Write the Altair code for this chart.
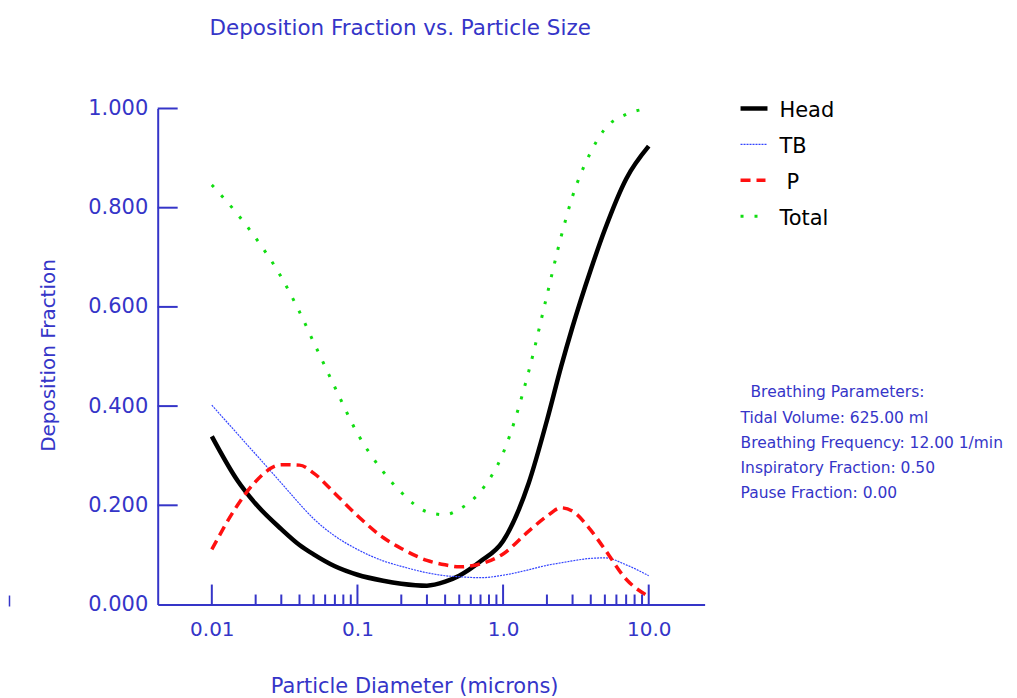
import altair as alt
import pandas as pd

# ---------------- data ----------------
diameters = [0.01, 0.015, 0.02, 0.03, 0.04, 0.05, 0.07, 0.1, 0.15, 0.2, 0.3, 0.4,
             0.5, 0.7, 1.0, 1.5, 2.0, 2.5, 3.0, 4.0, 5.0, 7.0, 10.0]
head = [0.339, 0.250, 0.203, 0.152, 0.120, 0.101, 0.077, 0.060, 0.048, 0.042, 0.038, 0.046,
        0.058, 0.087, 0.128, 0.245, 0.371, 0.479, 0.560, 0.675, 0.756, 0.858, 0.924]
tb = [0.402, 0.344, 0.303, 0.245, 0.203, 0.173, 0.138, 0.111, 0.088, 0.077, 0.064, 0.058,
      0.056, 0.054, 0.059, 0.070, 0.079, 0.084, 0.088, 0.093, 0.094, 0.080, 0.058]
p = [0.111, 0.200, 0.248, 0.282, 0.281, 0.265, 0.224, 0.179, 0.135, 0.113, 0.089, 0.080,
     0.076, 0.082, 0.102, 0.148, 0.178, 0.195, 0.188, 0.150, 0.111, 0.051, 0.016]
total = [0.846, 0.787, 0.739, 0.660, 0.590, 0.529, 0.438, 0.345, 0.268, 0.226, 0.187, 0.181,
         0.192, 0.228, 0.305, 0.470, 0.623, 0.741, 0.823, 0.912, 0.959, 0.988, 1.000]

series_names = ["Head", "TB", "P", "Total"]
legend_labels = ["Head", "TB", "P", "Total"]

x_major = [0.01, 0.1, 1.0, 10.0]
x_tick_labels = ["0.01", "0.1", "1.0", "10.0"]
x_minor = [round(m * dec, 6) for dec in (0.01, 0.1, 1.0) for m in range(2, 10)]
y_ticks = [0.0, 0.2, 0.4, 0.6, 0.8, 1.0]

param_lines = ["Breathing Parameters:",
               "Tidal Volume: 625.00 ml",
               "Breathing Frequency: 12.00 1/min",
               "Inspiratory Fraction: 0.50",
               "Pause Fraction: 0.00"]

title_text = "Deposition Fraction vs. Particle Size"
x_title = "Particle Diameter (microns)"
y_title = "Deposition Fraction"

# ---------------- styling ----------------
BLUE = "#3535c8"
FONT = "DejaVu Sans"
W, H = 548, 497

styles = {
    "Head": dict(color="#000000", strokeWidth=4.5),
    "TB": dict(color="#3344ff", strokeWidth=1.2, strokeDash=[2, 1]),
    "P": dict(color="#ff1010", strokeWidth=3.5, strokeDash=[10, 6]),
    "Total": dict(color="#11dd11", strokeWidth=3, strokeDash=[3, 11]),
}

df = pd.DataFrame({"d": diameters, "Head": head, "TB": tb, "P": p, "Total": total})
long = df.melt(id_vars="d", var_name="series", value_name="value")

xscale = alt.Scale(type="log", domain=[0.00425, 24.2], nice=False)
yscale = alt.Scale(domain=[0, 1], nice=False, zero=False)

label_expr = "".join(
    f"abs(datum.value - {v}) < {v * 1e-3} ? '{l}' : " for v, l in zip(x_major, x_tick_labels)
) + "''"

xaxis = alt.Axis(values=x_major, labelExpr=label_expr, grid=False, ticks=False, tickSize=0,
                 domain=True, domainColor=BLUE, domainWidth=2,
                 labelFont=FONT, labelFontSize=20, labelColor=BLUE, labelPadding=15,
                 labelFlush=False, labelOverlap=False,
                 title=x_title, titleFont=FONT, titleFontSize=21, titleFontWeight="normal",
                 titleColor=BLUE, titleX=257, titleY=88, titleAlign="center",
                 titleBaseline="alphabetic")
yaxis = alt.Axis(values=y_ticks, format=".3f", grid=False, ticks=False, tickSize=0,
                 domain=True, domainColor=BLUE, domainWidth=2,
                 labelFont=FONT, labelFontSize=21, labelColor=BLUE, labelPadding=10,
                 labelFlush=False, labelOverlap=False,
                 title=y_title, titleFont=FONT, titleFontSize=20, titleFontWeight="normal",
                 titleColor=BLUE, titleAngle=270, titleX=-109, titleY=247,
                 titleAlign="center", titleBaseline="middle")

X = lambda f: alt.X(f, scale=xscale, axis=xaxis)
Y = lambda f: alt.Y(f, scale=yscale, axis=yaxis)

layers = []
for name in series_names:
    layers.append(
        alt.Chart(long).transform_filter(alt.datum.series == name)
        .mark_line(interpolate="monotone", **styles[name])
        .encode(x=X("d:Q"), y=Y("value:Q"))
    )

# inward tick marks
major_df = pd.DataFrame({"d": x_major})
minor_df = pd.DataFrame({"d": x_minor})
ytick_df = pd.DataFrame({"value": y_ticks[1:]})
ticks = [
    alt.Chart(major_df).mark_rule(color=BLUE, strokeWidth=2).encode(
        x=X("d:Q"), y=alt.value(H), y2=alt.value(H - 20)),
    alt.Chart(minor_df).mark_rule(color=BLUE, strokeWidth=2).encode(
        x=X("d:Q"), y=alt.value(H), y2=alt.value(H - 10)),
    alt.Chart(ytick_df).mark_rule(color=BLUE, strokeWidth=2).encode(
        y=Y("value:Q"), x=alt.value(0), x2=alt.value(20)),
]

# manual legend
legend_layers = []
sym_len = {"Head": 27, "TB": 26, "P": 25, "Total": 18}
label_dx = {"Head": 0, "TB": 0, "P": 7, "Total": 0}
for i, (name, lab) in enumerate(zip(series_names, legend_labels)):
    legend_layers.append(
        alt.Chart(pd.DataFrame({"s": [name]})).mark_rule(**styles[name]).encode(
            x=alt.value(584), x2=alt.value(584 + sym_len[name]), y=alt.value(36 * i))
    )
    legend_layers.append(
        alt.Chart(pd.DataFrame({"s": [lab]})).mark_text(
            font=FONT, fontSize=21, color="#000000", align="left", baseline="alphabetic"
        ).encode(text="s:N", x=alt.value(623 + label_dx[name]), y=alt.value(9 + 36 * i))
    )

params = alt.Chart(pd.DataFrame({"s": [param_lines[0]]})).mark_text(
    font=FONT, fontSize=15.5, color=BLUE, align="left", baseline="alphabetic"
).encode(text="s:N", x=alt.value(594), y=alt.value(289))
params_rest = alt.Chart(pd.DataFrame({"s": [0]})).mark_text(
    text=param_lines[1:], font=FONT, fontSize=15.5, color=BLUE, align="left",
    baseline="alphabetic", lineHeight=25
).encode(x=alt.value(584), y=alt.value(315))

title = alt.Chart(pd.DataFrame({"s": [title_text]})).mark_text(
    font=FONT, fontSize=21.5, color=BLUE, align="center", baseline="alphabetic"
).encode(text="s:N", x=alt.value(243), y=alt.value(-74))

stray = alt.Chart(pd.DataFrame({"s": [0]})).mark_rule(color=BLUE, strokeWidth=1.5).encode(
    x=alt.value(-148.5), y=alt.value(488), y2=alt.value(499))

chart = alt.layer(*layers, *ticks, *legend_layers, params, params_rest, title, stray).properties(
    width=W, height=H,
    background="white",
    autosize=alt.AutoSizeParams(type="none"),
    padding={"left": 150, "top": 100, "right": 305, "bottom": 100},
).configure_view(strokeWidth=0)

chart.save("out.html", embed_options={"renderer": "svg", "actions": False})
